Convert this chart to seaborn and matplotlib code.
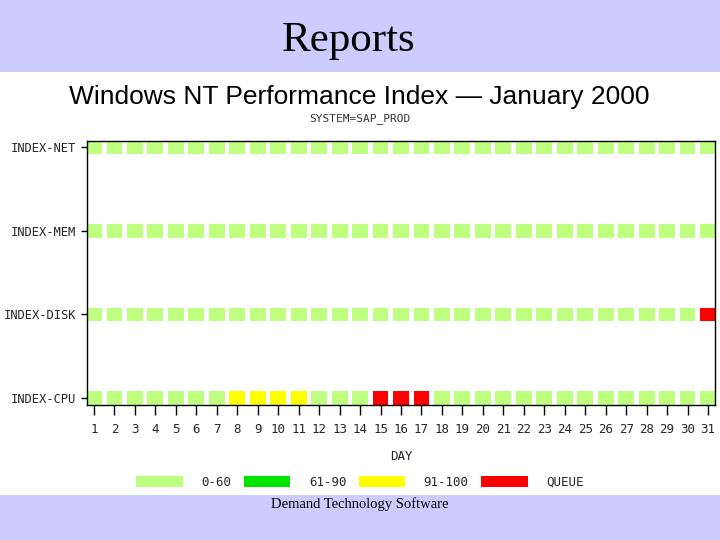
import numpy as np
import pandas as pd
import matplotlib
matplotlib.use("Agg")
import matplotlib.pyplot as plt
from matplotlib.patches import Patch, Rectangle
import seaborn as sns

# ---- data ----
days = list(range(1, 32))
indexes = ["INDEX-NET", "INDEX-MEM", "INDEX-DISK", "INDEX-CPU"]
categories = ["0-60", "61-90", "91-100", "QUEUE"]
colors = ["#BFFF80", "#00E600", "#FFFF00", "#FF0000"]

net_level = ["0-60"] * 31
mem_level = ["0-60"] * 31
disk_level = ["0-60"] * 30 + ["QUEUE"]
cpu_level = (["0-60"] * 7 + ["91-100"] * 4 + ["0-60"] * 3 + ["QUEUE"] * 3
             + ["0-60"] * 14)

levels = {"INDEX-NET": net_level, "INDEX-MEM": mem_level,
          "INDEX-DISK": disk_level, "INDEX-CPU": cpu_level}

rows = []
for name in indexes:
    for d, lv in zip(days, levels[name]):
        rows.append({"day": d, "index": name, "level": lv})
df = pd.DataFrame(rows)
ypos = {"INDEX-CPU": 0, "INDEX-DISK": 1, "INDEX-MEM": 2, "INDEX-NET": 3}
df["y"] = df["index"].map(ypos)

palette = dict(zip(categories, colors))

# ---- figure ----
sns.set_theme(style="white")
plt.rcParams["font.family"] = ["DejaVu Sans"]
fig = plt.figure(figsize=(7.2, 5.4), dpi=100)
fig.patch.set_facecolor("white")

# slide bands
fig.patches.append(Rectangle((0, 1 - 72 / 540), 1, 72 / 540, transform=fig.transFigure,
                             facecolor="#CCCCFF", edgecolor="none", zorder=0))
fig.patches.append(Rectangle((0, 0), 1, 45 / 540, transform=fig.transFigure,
                             facecolor="#CCCCFF", edgecolor="none", zorder=0))
fig.text(0.484, 1 - 41 / 540, "Reports", ha="center", va="center",
         family="Liberation Serif", fontsize=31, color="black")
fig.text(0.5, 1 - 504 / 540, "Demand Technology Software", ha="center", va="center",
         family="Liberation Serif", fontsize=10.5, color="black")

fig.text(0.499, 1 - 97 / 540, "Windows NT Performance Index \u2014 January 2000",
         ha="center", va="center", family="Liberation Sans", fontsize=19, color="black")
fig.text(0.5, 1 - 119 / 540, "SYSTEM=SAP_PROD", ha="center", va="center",
         family="DejaVu Sans Mono", fontsize=8, color="#333333")

ax = fig.add_axes([87 / 720, 135 / 540, 628 / 720, 264 / 540])
rect_marker = [(-1.15, -1), (1.15, -1), (1.15, 1), (-1.15, 1), (-1.15, -1)]
sns.scatterplot(data=df, x="day", y="y", hue="level", palette=palette,
                hue_order=categories, marker=rect_marker, s=130, linewidth=0,
                legend=False, ax=ax)

ax.set_xlim(0.66, 31.34)
ax.set_ylim(-0.08, 3.07)
ax.set_xticks(days)
ax.set_xticklabels([str(d) for d in days], family="DejaVu Sans Mono", fontsize=9)
ax.set_yticks([ypos[n] for n in indexes])
ax.set_yticklabels(indexes, family="DejaVu Sans Mono", fontsize=8.7)
ax.set_xlabel("DAY", family="DejaVu Sans Mono", fontsize=9, labelpad=10)
ax.set_ylabel("")
for sp in ax.spines.values():
    sp.set_visible(True)
    sp.set_color("black")
    sp.set_linewidth(1)
ax.tick_params(axis="x", bottom=True, length=7, width=1, color="black", pad=6)
ax.tick_params(axis="y", left=True, length=4, width=1, color="black", pad=4)
ax.grid(False)

handles = [Patch(facecolor=c, edgecolor="none", label=l) for l, c in zip(categories, colors)]
leg = fig.legend(handles=handles, loc="center", bbox_to_anchor=(0.5, 1 - 482 / 540),
                 ncol=4, frameon=False, prop={"family": "DejaVu Sans Mono", "size": 9},
                 handlelength=3.7, handleheight=1.0, handletextpad=1.5, columnspacing=1.0)

fig.savefig("out.png", dpi=100)
